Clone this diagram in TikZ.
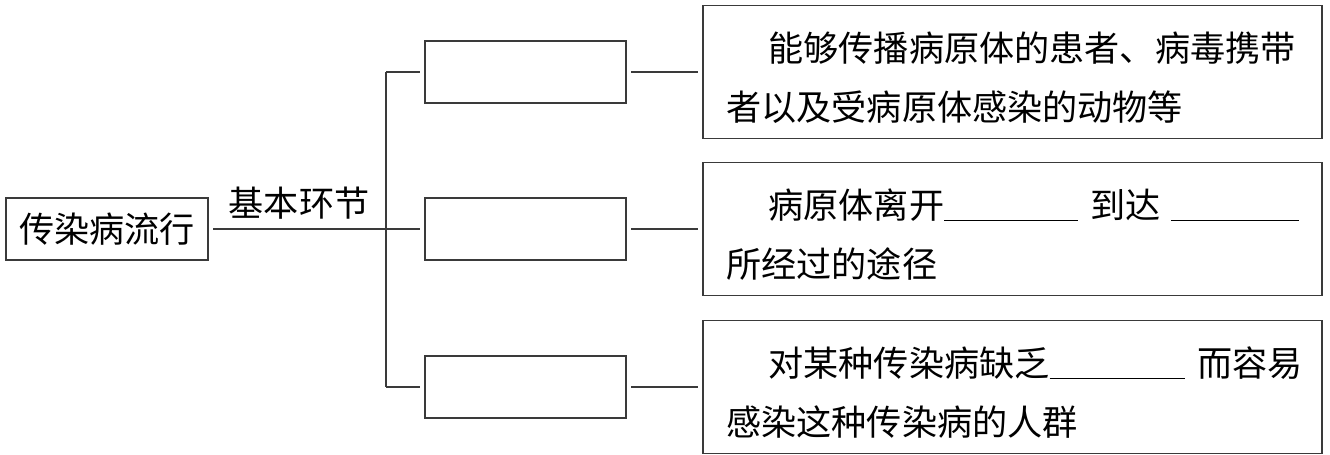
\documentclass[tikz,border=0pt]{standalone}
\usepackage{fontspec}
\setmainfont{Noto Sans CJK SC}

% Lines of a description box: unbreakable, the first one with some room above
\newcommand{\notefirst}[1]{\mbox{\raisebox{0pt}[\dimexpr\height+6pt\relax]{#1}}}
\newcommand{\noteline}[1]{\mbox{#1}}

\begin{document}
\begin{tikzpicture}[x=0.02cm, y=-0.02cm, font=\fontsize{20pt}{33.5pt}\selectfont]
    % Define colours
    \definecolor{borderColour}{HTML}{3A3A3A}

    \tikzset{
        box/.style={draw=borderColour, line width=0.9pt, inner sep=0pt, minimum height=1.23cm},
        blankbox/.style={box, minimum width=4.02cm},
        notebox/.style={draw=borderColour, line width=0.9pt, inner sep=0pt, minimum width=12.38cm, minimum height=2.66cm, text width=11.45cm, align=left},
        link/.style={draw=borderColour, line width=0.9pt, shorten <=2.5pt, shorten >=2.5pt}
    }

    % Fix the page size
    \useasboundingbox (0,0) rectangle (1330,454);

    % Main box and label
    \node[box, minimum width=4.04cm] (spread) at (107,229) {传染病流行};
    \node (stage) at (299,203) {基本环节};

    % Blank boxes
    \node[blankbox] (mid1) at (525.5,72) {};
    \node[blankbox] (mid2) at (525.5,229) {};
    \node[blankbox] (mid3) at (525.5,387) {};

    % Description boxes
    \node[notebox] (note1) at (1012.5,72) {\notefirst{\hspace*{1.2em}能够传播病原体的患者、病毒携带}\\\noteline{者以及受病原体感染的动物等}};
    \node[notebox] (note2) at (1012.5,229) {\notefirst{\hspace*{1.2em}病原体离开\underline{\hspace{3.8em}}\hspace{0.37em}到达\hspace{0.28em}\underline{\hspace{3.65em}}}\\\noteline{所经过的途径}};
    \node[notebox] (note3) at (1012.5,387) {\notefirst{\hspace*{1.2em}对某种传染病缺乏\underline{\hspace{3.85em}}\hspace{0.35em}而容易}\\\noteline{感染这种传染病的人群}};

    % Draw connectors
    \coordinate (bus) at (386,229);
    \draw[link] (spread) -- (mid2);
    \draw[borderColour, line width=0.9pt] (bus |- mid1) -- (bus |- mid3);
    \foreach \i in {1,2,3}
        \draw[link, shorten <=0pt] (bus |- mid\i) -- (mid\i);
    \foreach \i in {1,2,3}
        \draw[link] (mid\i) -- (note\i);

\end{tikzpicture}
\end{document}
